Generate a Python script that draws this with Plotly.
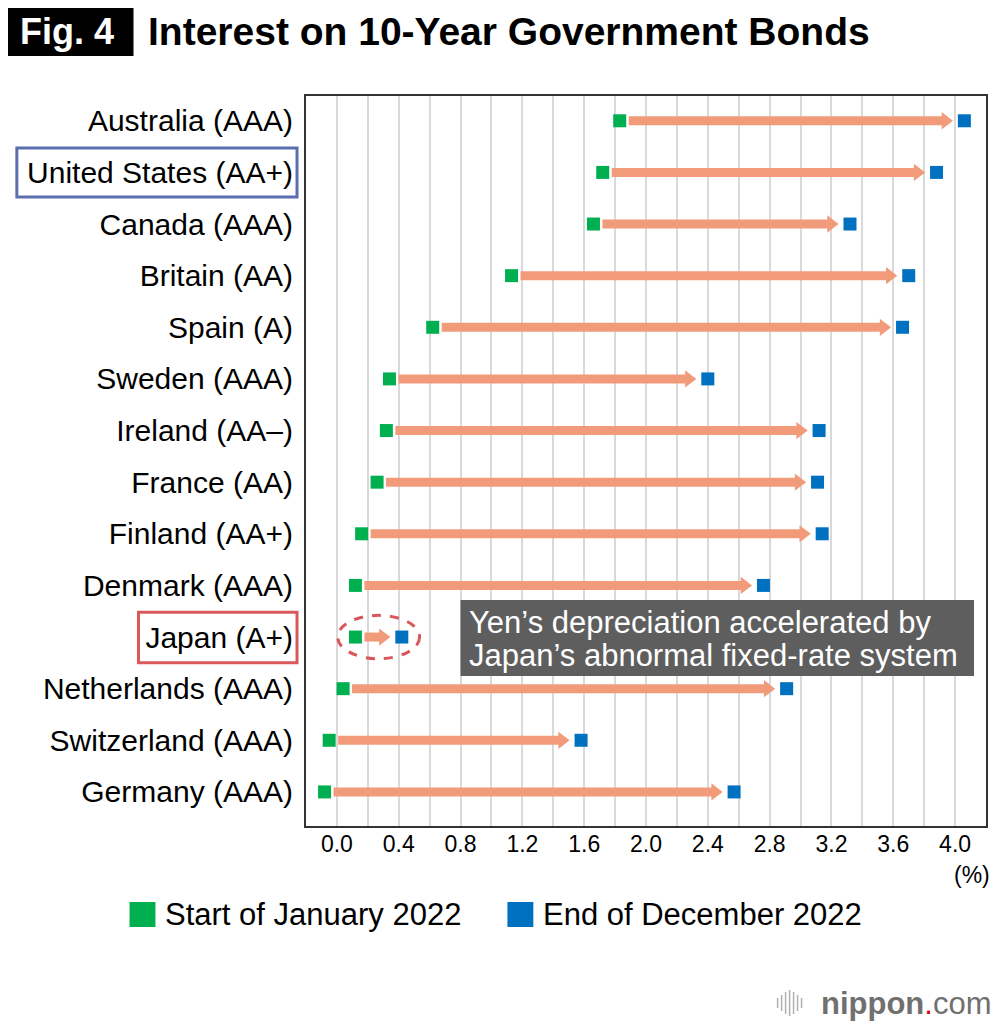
import plotly.graph_objects as go

# ---------------- data ----------------
countries = [
    "Australia (AAA)", "United States (AA+)", "Canada (AAA)", "Britain (AA)",
    "Spain (A)", "Sweden (AAA)", "Ireland (AA–)", "France (AA)", "Finland (AA+)",
    "Denmark (AAA)", "Japan (A+)", "Netherlands (AAA)", "Switzerland (AAA)",
    "Germany (AAA)",
]
start_jan_2022 = [1.83, 1.72, 1.66, 1.13, 0.62, 0.34, 0.32, 0.26, 0.16, 0.12, 0.12, 0.04, -0.05, -0.08]
end_dec_2022 = [4.06, 3.88, 3.32, 3.70, 3.66, 2.40, 3.12, 3.11, 3.14, 2.76, 0.42, 2.91, 1.58, 2.57]
tick_values = [0.0, 0.4, 0.8, 1.2, 1.6, 2.0, 2.4, 2.8, 3.2, 3.6, 4.0]
tick_labels = ["0.0", "0.4", "0.8", "1.2", "1.6", "2.0", "2.4", "2.8", "3.2", "3.6", "4.0"]
series_names = ["Start of January 2022", "End of December 2022"]
highlight_us = "United States (AA+)"
highlight_jp = "Japan (A+)"
note_lines = ["Yen’s depreciation accelerated by", "Japan’s abnormal fixed-rate system"]

# ---------------- style / layout ----------------
OFF = 8                     # page body margin
W, H = 1000 - OFF, 1034 - OFF
L, T = 306 - OFF, 96 - OFF  # plot area origin (figure coords)
PW, PH = 682, 730
R, B = W - L - PW, H - T - PH
X_RANGE = [-0.2, 4.2]
Y_RANGE = [-0.66, 13.48]
PXU = PW / (X_RANGE[1] - X_RANGE[0])  # pixels per data unit

GREEN = "#00B050"
BLUE = "#0070C0"
SALMON = "#F29B7B"
FONT = "Liberation Sans, Arial, sans-serif"


def px(xp):
    """page x pixel -> paper fraction"""
    return (xp - OFF - L) / PW


def py(yp):
    """page y pixel -> paper fraction"""
    return (T + PH - (yp - OFF)) / PH


order = list(reversed(countries))
idx = {c: i for i, c in enumerate(order)}

fig = go.Figure()

# arrow shafts
sx, sy = [], []
for c, s, e in zip(countries, start_jan_2022, end_dec_2022):
    sx += [s + 9 / PXU, e - 19 / PXU, None]
    sy += [c, c, None]
fig.add_trace(go.Scatter(x=sx, y=sy, mode="lines", line=dict(color=SALMON, width=9),
                         hoverinfo="skip", showlegend=False))
# arrow heads
fig.add_trace(go.Scatter(x=[e - 19 / PXU for e in end_dec_2022], y=countries, mode="markers",
                         marker=dict(symbol="triangle-right", size=15, color=SALMON, line=dict(width=0)),
                         hoverinfo="skip", showlegend=False))
# start / end markers
fig.add_trace(go.Scatter(x=start_jan_2022, y=countries, mode="markers", name=series_names[0],
                         marker=dict(symbol="square", size=13, color=GREEN, line=dict(width=0)),
                         showlegend=False))
fig.add_trace(go.Scatter(x=end_dec_2022, y=countries, mode="markers", name=series_names[1],
                         marker=dict(symbol="square", size=13, color=BLUE, line=dict(width=0)),
                         showlegend=False))

shapes = []
annotations = []

# title
TITLE_Y = 32
shapes.append(dict(type="rect", xref="paper", yref="paper", x0=px(0), x1=px(133), y0=py(8), y1=py(56),
                   fillcolor="black", line=dict(width=0)))
annotations.append(dict(xref="paper", yref="paper", x=px(66), y=py(TITLE_Y), text="<b>Fig. 4</b>",
                        showarrow=False, font=dict(family=FONT, size=36, color="white"),
                        xanchor="center", yanchor="middle"))
annotations.append(dict(xref="paper", yref="paper", x=px(146), y=py(TITLE_Y),
                        text="<b>Interest on 10-Year Government Bonds</b>",
                        showarrow=False, font=dict(family=FONT, size=39, color="black"),
                        xanchor="left", yanchor="middle"))

# highlight boxes around labels
i_us = idx[highlight_us]
i_jp = idx[highlight_jp]
shapes.append(dict(type="rect", xref="paper", yref="y", x0=px(16), x1=px(297),
                   y0=i_us - 0.475, y1=i_us + 0.475, line=dict(color="#5B6EAE", width=3)))
shapes.append(dict(type="rect", xref="paper", yref="y", x0=px(138), x1=px(297),
                   y0=i_jp - 0.5, y1=i_jp + 0.48, line=dict(color="#D9595B", width=3)))

# dashed ellipse around Japan
j = countries.index(highlight_jp)
shapes.append(dict(type="circle", xref="x", yref="y",
                   x0=start_jan_2022[j] - 0.115, x1=end_dec_2022[j] + 0.115,
                   y0=i_jp - 0.42, y1=i_jp + 0.42,
                   line=dict(color="#D9575B", width=3, dash="dash")))

# note box
shapes.append(dict(type="rect", xref="paper", yref="paper", x0=px(461), x1=px(976),
                   y0=py(676), y1=py(600), fillcolor="#5E5E5E", line=dict(width=0)))
for k, line in enumerate(note_lines):
    annotations.append(dict(xref="paper", yref="paper", x=px(467), y=py(622 + 33 * k), text=line,
                            showarrow=False, xanchor="left", yanchor="middle",
                            font=dict(family=FONT, size=31, color="white")))

# unit label
annotations.append(dict(xref="paper", yref="paper", x=px(994), y=py(875), text="(%)", showarrow=False,
                        xanchor="right", yanchor="middle", font=dict(family=FONT, size=23, color="black")))

# legend (custom)
for (x0, color, label) in [(129, GREEN, series_names[0]), (508, BLUE, series_names[1])]:
    shapes.append(dict(type="rect", xref="paper", yref="paper", x0=px(x0), x1=px(x0 + 26),
                       y0=py(927), y1=py(902), fillcolor=color, line=dict(width=0)))
    annotations.append(dict(xref="paper", yref="paper", x=px(x0 + 34), y=py(914), text=label,
                            showarrow=False, xanchor="left", yanchor="middle",
                            font=dict(family=FONT, size=31, color="black")))

# nippon.com logo
annotations.append(dict(xref="paper", yref="paper", x=px(996), y=py(1003),
                        text="<b>nippon</b><span style='color:#E60012'>.</span>com",
                        showarrow=False, xanchor="right", yanchor="middle",
                        font=dict(family=FONT, size=31, color="#707070")))
bar_h = [10, 16, 22, 26, 22, 16, 10]
for k, hh in enumerate(bar_h):
    xc = 779 + k * 4
    shapes.append(dict(type="line", xref="paper", yref="paper", x0=px(xc), x1=px(xc),
                       y0=py(1003 - hh / 2), y1=py(1003 + hh / 2),
                       line=dict(color="#B0B0B0", width=1.5)))

fig.update_layout(
    width=W, height=H,
    margin=dict(l=L, r=R, t=T, b=B, pad=0),
    paper_bgcolor="white", plot_bgcolor="white",
    font=dict(family=FONT, color="black"),
    showlegend=False,
    shapes=shapes,
    annotations=annotations,
    xaxis=dict(
        range=X_RANGE, tickvals=tick_values, ticktext=tick_labels,
        tickfont=dict(size=23, color="black"), ticks="", ticklabelstandoff=-4,
        showgrid=True, gridcolor="#D9D9D9", gridwidth=1.5, zeroline=False,
        minor=dict(tick0=0, dtick=0.2, showgrid=True, gridcolor="#D9D9D9", gridwidth=1.5, ticks=""),
        showline=True, mirror=True, linecolor="#333333", linewidth=2,
    ),
    yaxis=dict(
        type="category", categoryorder="array", categoryarray=order, range=Y_RANGE,
        tickfont=dict(size=30, color="black"), ticks="", ticklabelstandoff=5,
        showgrid=False, zeroline=False,
        showline=True, mirror=True, linecolor="#333333", linewidth=2,
    ),
)

fig.write_html("out.html")
